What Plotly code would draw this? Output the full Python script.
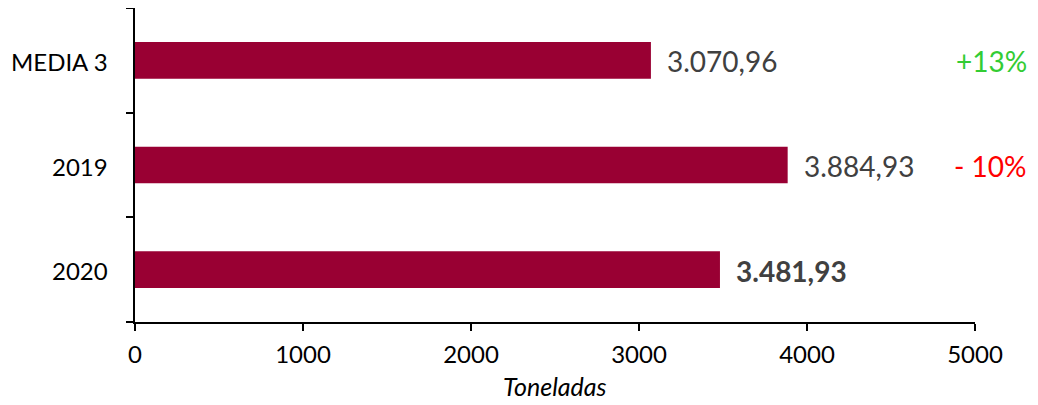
import plotly.graph_objects as go

categories = ["MEDIA 3", "2019", "2020"]
values = [3070.96, 3884.93, 3481.93]
value_labels = ["3.070,96", "3.884,93", "<b>3.481,93</b>"]
pct_labels = ["+13%", "- 10%"]
pct_colors = ["#33CC33", "#FF0000"]
x_ticks = [0, 1000, 2000, 3000, 4000, 5000]

BAR_COLOR = "#990033"
FONT = "Lato, 'Open Sans', sans-serif"

fig = go.Figure()
fig.add_trace(go.Bar(
    y=list(range(len(categories))), x=values, orientation="h",
    marker=dict(color=BAR_COLOR, line=dict(width=0)),
    width=0.35, hoverinfo="skip",
))

annotations = []
for i, (v, lab) in enumerate(zip(values, value_labels)):
    annotations.append(dict(
        x=v, y=i, xref="x", yref="y", text=lab, showarrow=False,
        xanchor="left", yanchor="middle", xshift=14, yshift=-1,
        font=dict(family=FONT, size=28, color="#404040"),
    ))
for i, (lab, col) in enumerate(zip(pct_labels, pct_colors)):
    annotations.append(dict(
        x=1.0643, y=i, xref="paper", yref="y", text=lab, showarrow=False,
        xanchor="right", yanchor="middle", yshift=-1,
        font=dict(family=FONT, size=28, color=col),
    ))
annotations.append(dict(
    x=0.5, y=-0.205, xref="paper", yref="paper", text="<i>Toneladas</i>",
    showarrow=False, xanchor="center", yanchor="middle",
    font=dict(family=FONT, size=25, color="#000000"),
))

fig.update_layout(
    width=1022, height=397,
    margin=dict(l=127, r=55, t=0, b=83, autoexpand=False),
    paper_bgcolor="white", plot_bgcolor="white",
    showlegend=False,
    font=dict(family=FONT, size=24, color="#000000"),
    annotations=annotations,
    xaxis=dict(
        range=[0, 5000], tickvals=x_ticks, ticktext=[str(t) for t in x_ticks],
        showgrid=False, zeroline=False, showline=True, linecolor="black",
        linewidth=1.5, ticks="outside", ticklen=7, tickwidth=1.5,
        tickcolor="black", tickfont=dict(size=24), ticklabelstandoff=3,
        automargin=False,
    ),
    yaxis=dict(
        range=[2.5, -0.5], autorange=False,
        tickvals=[-0.5, 0.5, 1.5, 2.5], ticktext=["", "", "", ""],
        showgrid=False, zeroline=False, showline=True, linecolor="black",
        linewidth=1.5, ticks="outside", ticklen=7, tickwidth=1.5,
        tickcolor="black", automargin=False,
    ),
)

for i, cat in enumerate(categories):
    fig.add_annotation(
        x=0, y=i, xref="paper", yref="y", text=cat, showarrow=False,
        xanchor="right", yanchor="middle", xshift=-25, yshift=-1,
        font=dict(family=FONT, size=24, color="#000000"),
    )

fig.write_html("out.html")
